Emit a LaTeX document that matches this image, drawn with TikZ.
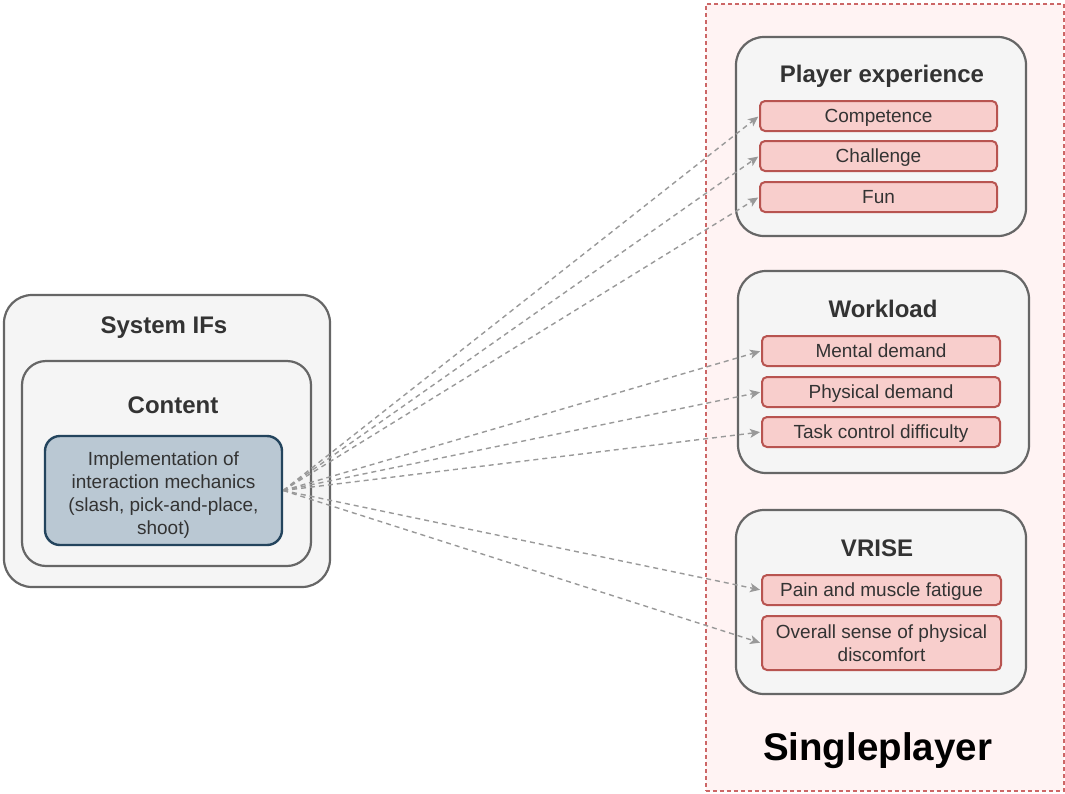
\documentclass[tikz,border=0pt]{standalone}
\usepackage{fontspec}
\setmainfont{Liberation Sans}
\usetikzlibrary{arrows.meta}

\definecolor{grpfill}{HTML}{F5F5F5}
\definecolor{grpline}{HTML}{666666}
\definecolor{itemfill}{HTML}{F8CECC}
\definecolor{itemline}{HTML}{B85450}
\definecolor{implfill}{HTML}{BAC8D3}
\definecolor{implline}{HTML}{23445D}
\definecolor{sglfill}{HTML}{FFF3F3}
\definecolor{sglline}{HTML}{CC6666}
\definecolor{txt}{HTML}{333333}
\definecolor{link}{HTML}{999999}

\begin{document}
\begin{tikzpicture}[
    x=1pt, y=-1pt,
    group/.style={draw=grpline,fill=grpfill,line width=2.2pt,rounded corners=28pt},
    itembox/.style={draw=itemline,fill=itemfill,line width=2pt,rounded corners=5pt,
      minimum width=237pt,minimum height=30pt,inner sep=0pt,text=txt,
      font=\fontsize{19}{23}\selectfont,align=center},
    item/.style={itembox,text height=13.6pt,text depth=0pt},
    title/.style={text=txt,inner sep=0pt,text height=17pt,text depth=0pt,
      font=\fontsize{24}{28}\selectfont\bfseries},
    dep/.style={draw=link,dash pattern=on 5pt off 4pt,line width=1.4pt,
      -{Stealth[length=10pt,width=9pt,inset=2.5pt]},shorten >=1pt}]
  \useasboundingbox (0,0) rectangle (1065,793);
  % singleplayer frame
  \node[draw=sglline,fill=sglfill,dash pattern=on 4pt off 3pt,line width=1.3pt,
    minimum width=358pt,minimum height=787pt] (single) at (885,397.5) {};
  \node[inner sep=0pt,text height=27.5pt,text depth=0pt,
    font=\fontsize{38.5}{44}\selectfont\bfseries] (singlelbl) at (877.5,746.5) {Singleplayer};
  % left side
  \node[group,minimum width=326pt,minimum height=292pt] (sysifs) at (167,441) {};
  \node[title] (sysifslbl) at (164,325) {System IFs};
  \node[group,rounded corners=24pt,minimum width=289pt,minimum height=205pt] (content) at (166.5,463.5) {};
  \node[title] (contentlbl) at (173,404.5) {Content};
  \node[draw=implline,fill=implfill,line width=2.4pt,rounded corners=15pt,
    minimum width=237pt,minimum height=109pt,text=txt,
    font=\fontsize{19}{23}\selectfont] (impl) at (163.5,490.5)
    {\raisebox{-5pt}[\height][\depth]{\begin{tabular}{@{}c@{}}Implementation of\\
      interaction mechanics\\(slash, pick-and-place,\\shoot)\end{tabular}}};
  % player experience
  \node[group,minimum width=290pt,minimum height=199pt] (pexp) at (881,136.5) {};
  \node[title] (pexplbl) at (882,73.5) {Player experience};
  \node[item] (compet) at (878.5,116) {Competence};
  \node[item] (chall) at (878.5,156) {Challenge};
  \node[item] (fun) at (878.5,197) {Fun};
  % workload
  \node[group,minimum width=291pt,minimum height=202pt] (wload) at (883.5,372) {};
  \node[title] (wloadlbl) at (883,308.5) {Workload};
  \node[item,minimum width=238pt] (mental) at (881,351) {Mental demand};
  \node[item,minimum width=238pt] (phys) at (881,392) {Physical demand};
  \node[item,minimum width=238pt] (task) at (881,432) {Task control difficulty};
  % vrise
  \node[group,minimum width=290pt,minimum height=184pt] (vrise) at (881,602) {};
  \node[title] (vriselbl) at (877,548) {VRISE};
  \node[item,minimum width=239pt] (pain) at (881.5,590) {Pain and muscle fatigue};
  \node[itembox,minimum width=239pt,minimum height=54pt] (overall) at (881.5,643)
    {Overall sense of physical\\discomfort};
  % links
  \foreach \t in {compet,chall,fun,mental,phys,task,pain,overall}
    \draw[dep] (impl.east) -- (\t.west);
\end{tikzpicture}
\end{document}
